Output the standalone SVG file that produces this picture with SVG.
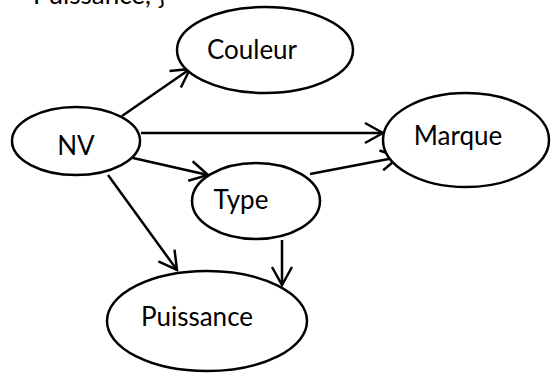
<svg xmlns="http://www.w3.org/2000/svg" width="557" height="373" viewBox="0 0 557 373">
  <style>
    .node ellipse { fill: #ffffff; stroke: #000000; stroke-width: 2.5; }
    .node text, .caption { font-family: Lato, "Liberation Sans", sans-serif; font-size: 26px; fill: #000000; }
    .edge { stroke: #000000; stroke-width: 2.5; fill: none; marker-end: url(#arrow); }
  </style>
  <defs>
    <marker id="arrow" markerUnits="userSpaceOnUse" viewBox="-22 -12 24 24" refX="0" refY="0" markerWidth="24" markerHeight="24" orient="auto">
      <path d="M -18 -10 L 0 0 L -18 10" fill="none" stroke="#000000" stroke-width="2.5" stroke-linejoin="miter"/>
    </marker>
  </defs>

  <rect x="0" y="0" width="557" height="373" fill="#ffffff"/>

  <!-- heading line, cut at the top edge -->
  <text class="caption" x="33" y="4">Puissance, }</text>

  <g id="connectors">
    <line class="edge" x1="122" y1="116" x2="190" y2="69"/>
    <line class="edge" x1="141" y1="133" x2="383" y2="133"/>
    <line class="edge" x1="133" y1="158" x2="208" y2="175"/>
    <line class="edge" x1="310" y1="174" x2="399" y2="157"/>
    <line class="edge" x1="108" y1="175" x2="177" y2="270"/>
    <line class="edge" x1="282" y1="240" x2="282" y2="285"/>
  </g>

  <g id="node-couleur" class="node">
    <ellipse cx="265" cy="50" rx="88" ry="43"/>
    <text x="252" y="59" text-anchor="middle">Couleur</text>
  </g>

  <g id="node-nv" class="node">
    <ellipse cx="76" cy="141" rx="64" ry="34"/>
    <text x="76" y="155" text-anchor="middle">NV</text>
  </g>

  <g id="node-marque" class="node">
    <ellipse cx="466" cy="140" rx="83" ry="47"/>
    <text x="458" y="145" text-anchor="middle">Marque</text>
  </g>

  <g id="node-type" class="node">
    <ellipse cx="256" cy="201" rx="64" ry="38"/>
    <text x="241" y="209" text-anchor="middle">Type</text>
  </g>

  <g id="node-puissance" class="node">
    <ellipse cx="207" cy="321" rx="100" ry="50"/>
    <text x="197" y="326" text-anchor="middle">Puissance</text>
  </g>
</svg>
